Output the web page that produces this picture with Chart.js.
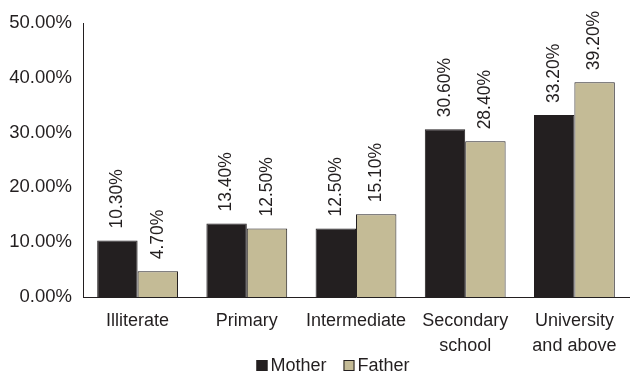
<!DOCTYPE html>
<html>
<head>
<meta charset="utf-8">
<script src="https://cdn.jsdelivr.net/npm/chart.js@4/dist/chart.umd.min.js"></script>
<style>
  html, body { margin: 0; padding: 0; background: #fff; }
  #wrap { width: 630px; height: 374px; position: relative; }
</style>
</head>
<body>
<div id="wrap"><canvas id="chart"></canvas></div>
<script>
const categories = ['Illiterate', 'Primary', 'Intermediate', ['Secondary', 'school'], ['University', 'and above']];
const motherValues = [10.3, 13.4, 12.5, 30.6, 33.2];
const fatherValues = [4.7, 12.5, 15.1, 28.4, 39.2];

const FONT = 'Liberation Sans, Arial, sans-serif';
const INK = '#231f20';

// draws the rotated value labels above each bar
const barLabels = {
    id: 'barLabels',
    afterDatasetsDraw(chart) {
        const ctx = chart.ctx;
        ctx.save();
        ctx.font = '17.5px ' + FONT;
        ctx.fillStyle = INK;
        ctx.textAlign = 'left';
        ctx.textBaseline = 'middle';
        chart.data.datasets.forEach((ds, i) => {
            chart.getDatasetMeta(i).data.forEach((bar, j) => {
                ctx.save();
                ctx.translate(bar.x, bar.y - 12);
                ctx.rotate(-Math.PI / 2);
                ctx.fillText(ds.data[j].toFixed(2) + '%', 0, 0);
                ctx.restore();
            });
        });
        ctx.restore();
    }
};

// compact legend under the axis labels (small boxes, tight gap)
const bottomLegend = {
    id: 'bottomLegend',
    afterDraw(chart) {
        const ctx = chart.ctx;
        const box = 11, gap = 3, spacing = 17;
        ctx.save();
        ctx.font = '18px ' + FONT;
        ctx.textBaseline = 'alphabetic';
        const items = chart.data.datasets.map(ds => ({ ds, w: ctx.measureText(ds.label).width }));
        const total = items.reduce((s, it) => s + box + gap + it.w, 0) + spacing * (items.length - 1);
        let x = 333 - total / 2;
        const baseline = 371;
        items.forEach(({ ds, w }) => {
            ctx.fillStyle = ds.backgroundColor;
            ctx.fillRect(x, baseline - 11, box, box);
            ctx.strokeStyle = INK;
            ctx.lineWidth = 1;
            ctx.strokeRect(x + 0.5, baseline - 10.5, box - 1, box - 1);
            ctx.fillStyle = INK;
            ctx.fillText(ds.label, x + box + gap, baseline);
            x += box + gap + w + spacing;
        });
        ctx.restore();
    }
};

new Chart(document.getElementById('chart'), {
    type: 'bar',
    data: {
        labels: categories,
        datasets: [
            { label: 'Mother', data: motherValues, backgroundColor: INK, borderColor: INK, borderWidth: 1 },
            { label: 'Father', data: fatherValues, backgroundColor: '#c4bb96', borderColor: INK, borderWidth: 1 }
        ]
    },
    options: {
        responsive: true,
        maintainAspectRatio: false,
        animation: false,
        layout: { padding: { top: 23, right: 1, left: 0, bottom: 0 } },
        datasets: { bar: { categoryPercentage: 0.74, barPercentage: 1 } },
        plugins: {
            tooltip: { enabled: false },
            legend: { display: false }
        },
        scales: {
            x: {
                grid: { display: false },
                border: { display: true, color: INK, width: 1 },
                afterFit: s => { s.height = 77; },
                ticks: { color: INK, font: { family: FONT, size: 18, lineHeight: 1.4 }, maxRotation: 0, padding: 3 }
            },
            y: {
                min: 0,
                max: 50,
                grid: { display: false },
                border: { display: true, color: INK, width: 1 },
                afterFit: s => { s.width = 83; },
                ticks: {
                    stepSize: 10,
                    color: INK,
                    padding: 3,
                    font: { family: FONT, size: 18.5 },
                    callback: v => v.toFixed(2) + '%'
                }
            }
        }
    },
    plugins: [barLabels, bottomLegend]
});
</script>
</body>
</html>
